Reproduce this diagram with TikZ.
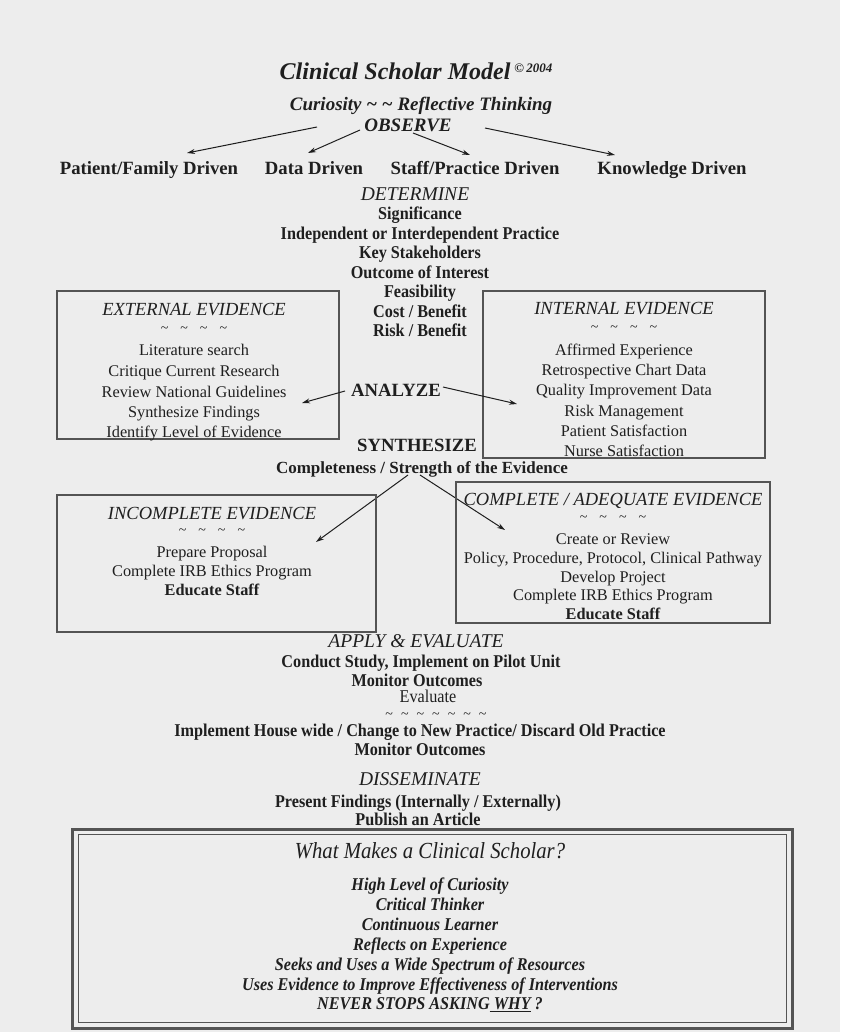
\documentclass[tikz,border=0pt]{standalone}
\usepackage{fontspec}
\setmainfont{Liberation Serif}
\newfontfamily\condfont[FakeStretch=0.9]{Liberation Serif}
\usetikzlibrary{arrows.meta}
\newcommand\fs[1]{\fontsize{#1}{#1}\selectfont}
\newcommand\tld{\char"7E\relax}
\definecolor{ink}{gray}{0.12}
\definecolor{boxc}{gray}{0.33}
\definecolor{bg}{gray}{0.93}
\tikzset{
  txt/.style={inner sep=0pt, text=ink, anchor=center, text height=0.66em, text depth=0pt, yshift=-4pt},
  ttl/.style={txt, font=\fs{24}\bfseries\itshape},
  hd/.style={txt, font=\fs{19}\bfseries\itshape},
  stage/.style={txt, font=\fs{19.5}\itshape},
  drv/.style={txt, font=\fs{18.7}\bfseries},
  lst/.style={txt, font=\condfont\fs{18}\bfseries},
  body/.style={txt, font=\fs{16.3}},
  bodyb/.style={txt, font=\fs{16.3}\bfseries},
  tilde/.style={inner sep=0pt, text=ink, anchor=center, text height=2pt, text depth=0pt, font=\fs{14}, yshift=-3pt},
  boxt/.style={txt, font=\fs{18.5}\itshape},
  qq/.style={txt, font=\condfont\fs{23}\itshape},
  qi/.style={txt, font=\condfont\fs{18}\bfseries\itshape},
  frame/.style={draw=boxc, line width=1.2pt, inner sep=0pt},
  arr/.style={draw=ink, line width=1pt, -{Stealth[length=8pt,width=5pt]}},
}
\begin{document}
\begin{tikzpicture}[x=1pt,y=-1pt]
\fill[bg] (0,0) rectangle (840,1032);
\useasboundingbox (0,0) rectangle (840,1032);

% title
\node[ttl] (title) at (416,72) {Clinical Scholar Model\,\raisebox{7pt}{\fs{13}\itshape\bfseries\char"A9\,2004}};
\node[hd] (cur) at (421,103) {Curiosity \tld{} \tld{} Reflective Thinking};
\node[hd] (obs) at (408,124) {OBSERVE};

% driven row
\node[drv] (pf) at (149,167) {Patient/Family Driven};
\node[drv] (dd) at (314,167) {Data Driven};
\node[drv] (sp) at (475,167) {Staff/Practice Driven};
\node[drv] (kd) at (672,167) {Knowledge Driven};

\coordinate (o1) at (317,127); \coordinate (t1) at (187,153);
\coordinate (o2) at (360,130); \coordinate (t2) at (308,153);
\coordinate (o3) at (413,133); \coordinate (t3) at (470,155);
\coordinate (o4) at (485,128); \coordinate (t4) at (615,155);
\draw[arr] (o1) -- (t1);
\draw[arr] (o2) -- (t2);
\draw[arr] (o3) -- (t3);
\draw[arr] (o4) -- (t4);

% determine
\node[stage] (det) at (415,193) {DETERMINE};
\node[lst] (d1) at (420,212) {Significance};
\node[lst] (d2) at (420,232) {Independent or Interdependent Practice};
\node[lst] (d3) at (420,251) {Key Stakeholders};
\node[lst] (d4) at (420,271) {Outcome of Interest};
\node[lst] (d5) at (420,290) {Feasibility};
\node[lst] (d6) at (420,310) {Cost / Benefit};
\node[lst] (d7) at (420,329) {Risk / Benefit};

% external evidence
\node[frame, minimum width=282pt, minimum height=148pt] (ext) at (198,365) {};
\node[boxt] (extt) at (194,308) {EXTERNAL EVIDENCE};
\node[tilde] (extl) at (194,328) {\tld\hspace{12pt}\tld\hspace{12pt}\tld\hspace{12pt}\tld};
\node[body] (e1) at (194,348) {Literature search};
\node[body] (e2) at (194,369) {Critique Current Research};
\node[body] (e3) at (194,390) {Review National Guidelines};
\node[body] (e4) at (194,410) {Synthesize Findings};
\node[body] (e5) at (194,430) {Identify Level of Evidence};

% internal evidence
\node[frame, minimum width=282pt, minimum height=167pt] (int) at (624,374.5) {};
\node[boxt] (intt) at (624,307) {INTERNAL EVIDENCE};
\node[tilde] (intl) at (624,327) {\tld\hspace{12pt}\tld\hspace{12pt}\tld\hspace{12pt}\tld};
\node[body] (i1) at (624,348) {Affirmed Experience};
\node[body] (i2) at (624,368) {Retrospective Chart Data};
\node[body] (i3) at (624,388.5) {Quality Improvement Data};
\node[body] (i4) at (624,409) {Risk Management};
\node[body] (i5) at (624,429) {Patient Satisfaction};
\node[body] (i6) at (624,449) {Nurse Satisfaction};

% analyze
\node[drv] (ana) at (396,389) {ANALYZE};
\coordinate (a1) at (345,391); \coordinate (at1) at (302,403);
\coordinate (a2) at (443,387); \coordinate (at2) at (517,404);
\draw[arr] (a1) -- (at1);
\draw[arr] (a2) -- (at2);

% synthesize
\node[drv] (syn) at (417,444) {SYNTHESIZE};
\node[txt, font=\fs{17}\bfseries] (comp) at (422,466) {Completeness / Strength of the Evidence};
\coordinate (s1) at (408,475); \coordinate (st1) at (316,542);
\coordinate (s2) at (420,475); \coordinate (st2) at (505,530);
\draw[arr] (s1) -- (st1);
\draw[arr] (s2) -- (st2);

% incomplete evidence
\node[frame, minimum width=319pt, minimum height=137pt] (inc) at (216.5,563.5) {};
\node[boxt] (inct) at (212,512) {INCOMPLETE EVIDENCE};
\node[tilde] (incl) at (212,530) {\tld\hspace{12pt}\tld\hspace{12pt}\tld\hspace{12pt}\tld};
\node[body] (n1) at (212,550) {Prepare Proposal};
\node[body] (n2) at (212,569) {Complete IRB Ethics Program};
\node[bodyb] (n3) at (212,588) {Educate Staff};

% complete evidence
\node[frame, minimum width=314pt, minimum height=141pt] (cpl) at (613,552.5) {};
\node[boxt] (cplt) at (613,498) {COMPLETE / ADEQUATE EVIDENCE};
\node[tilde] (cpll) at (613,517) {\tld\hspace{12pt}\tld\hspace{12pt}\tld\hspace{12pt}\tld};
\node[body] (c1) at (613,537) {Create or Review};
\node[body] (c2) at (613,556) {Policy, Procedure, Protocol, Clinical Pathway};
\node[body] (c3) at (613,575) {Develop Project};
\node[body] (c4) at (613,593.5) {Complete IRB Ethics Program};
\node[bodyb] (c5) at (613,612) {Educate Staff};

% apply & evaluate
\node[stage] (app) at (416,640) {APPLY \& EVALUATE};
\node[lst] (p1) at (421,660) {Conduct Study, Implement on Pilot Unit};
\node[lst] (p2) at (417,679) {Monitor Outcomes};
\node[txt, font=\condfont\fs{18}] (p3) at (428,695) {Evaluate};
\node[tilde] (p4) at (436,714) {\tld\hspace{8pt}\tld\hspace{8pt}\tld\hspace{8pt}\tld\hspace{8pt}\tld\hspace{8pt}\tld\hspace{8pt}\tld};
\node[lst] (p5) at (420,729) {Implement House wide / Change to New Practice/ Discard Old Practice};
\node[lst] (p6) at (420,748) {Monitor Outcomes};

% disseminate
\node[stage] (dis) at (420,778) {DISSEMINATE};
\node[lst] (m1) at (418,800) {Present Findings (Internally / Externally)};
\node[lst] (m2) at (418,818) {Publish an Article};

% bottom box
\node[draw=boxc, line width=3pt, inner sep=0pt, minimum width=720pt, minimum height=199pt] (bb) at (432,928.5) {};
\node[draw=boxc, line width=0.8pt, inner sep=0pt, minimum width=708pt, minimum height=188pt] (bbi) at (bb.center) {};
\node[qq] (q0) at (430,851) {What Makes a Clinical Scholar?};
\node[qi] (q1) at (430,883) {High Level of Curiosity};
\node[qi] (q2) at (430,903) {Critical Thinker};
\node[qi] (q3) at (430,923) {Continuous Learner};
\node[qi] (q4) at (430,943) {Reflects on Experience};
\node[qi] (q5) at (430,963) {Seeks and Uses a Wide Spectrum of Resources};
\node[qi] (q6) at (430,983) {Uses Evidence to Improve Effectiveness of Interventions};
\node[qi] (q7) at (430,1002) {NEVER STOPS ASKING\underline{\ WHY}\ ?};
\end{tikzpicture}
\end{document}
